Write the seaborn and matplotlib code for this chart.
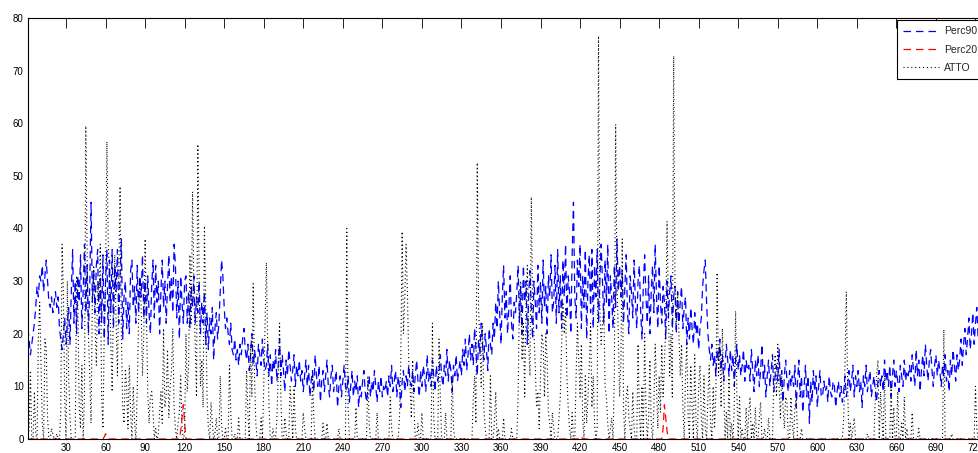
import numpy as np
import pandas as pd
import matplotlib
matplotlib.use("Agg")
import matplotlib.pyplot as plt
import seaborn as sns

# Percentile 90 (daily values, day 1..731)
perc90 = [
    21, 19, 16, 18, 20, 22,
    25, 29, 27, 31, 30, 33, 28, 31, 34, 30,
    26, 25, 27, 24, 26, 28, 25, 27,
    21, 19, 17, 20, 23, 18, 22,
    25, 18, 28, 36, 22, 30, 20, 31, 26, 35, 21, 28, 37, 24, 33, 20, 29, 45, 26, 32,
    24, 33, 36, 20, 31, 22, 35, 19, 30, 36, 18, 34, 24, 36, 21, 33, 28, 36, 22, 31, 38, 19, 27,
    30, 21, 26, 20, 32, 34, 25, 29, 22, 33, 24, 31, 27, 35, 23,
    30, 22, 31, 24, 20, 29, 34, 23, 33, 26, 30, 20, 28, 34, 25, 30, 22, 29, 35, 26, 31, 24, 37,
    33, 23, 30, 19, 31, 26, 22, 30, 31, 22, 28, 21, 29, 25, 31, 22, 27, 24, 30, 20, 26, 22, 28, 18,
    24, 17, 23, 20, 25, 15, 21, 24, 19, 22,
    28, 34, 31, 25, 21, 23, 20, 18, 22,
    17, 16, 19, 15, 17, 14, 18, 16, 19, 21, 17, 15, 18, 13, 16, 20, 14, 17, 15, 12, 18, 16, 14, 19, 15, 13,
    14, 18, 12, 16, 10, 15, 13, 17, 11, 14, 19, 12, 16, 13, 9, 15, 12, 17, 14, 11, 13, 16, 10, 14, 12, 15, 11,
    13, 9, 12, 15, 10, 14, 8, 11, 13, 9, 16, 12, 10, 14, 7, 11, 13, 9, 12, 15, 10, 8, 12, 14, 9, 11, 13, 6,
    10, 12, 8, 11, 14, 10,
    9, 12, 7, 10, 13, 8, 11, 9, 12, 6, 10, 8, 11, 13, 9, 7, 10, 12, 8, 11, 9, 13, 10, 7, 11, 9, 12, 8, 10, 9,
    11, 8, 12, 10, 14, 9, 11, 13, 8, 12, 10, 6, 11, 13, 9, 12, 10, 14, 11,
    10, 13, 9, 12, 15, 11, 8, 13, 10, 14, 12, 9, 16, 11, 13, 10, 15, 12, 9, 14, 11, 13, 16, 12,
    10, 14, 12, 17, 11, 15, 13, 9, 14, 12, 16, 11, 13,
    15, 12, 17, 14, 19, 13, 16, 20, 15, 18, 14, 21, 17, 12, 19, 16, 22, 18, 15, 20, 17, 13, 21, 18, 16,
    22, 19, 26, 21, 30, 24, 18, 27, 33, 23, 28, 20, 25, 31, 22, 19, 26, 24,
    28, 33, 22, 29, 20, 33, 26, 30, 18, 27, 32, 25, 19, 30, 26, 21, 33, 24, 30, 22, 34, 25, 29, 20, 31, 27,
    35, 24,
    26, 33, 22, 36, 24, 31, 21, 34, 27, 37, 23, 31, 28, 20, 35, 45, 27, 23, 34, 29, 37, 21, 31, 25, 36, 19,
    30, 35, 24, 36, 21, 33, 27, 36, 22, 30, 37,
    30, 22, 34, 26, 37, 20, 31, 27, 21, 33, 25, 38, 28, 33,
    27, 32, 22, 29, 35, 24, 20, 31, 28, 23, 34, 26, 21, 30, 33, 24, 19, 29, 35, 27, 22, 31, 20, 28, 33, 24,
    37, 27, 21, 33, 26, 22, 29,
    26, 19, 30, 23, 28, 31, 21, 27, 29, 20, 28, 22, 26, 29, 21, 25, 27, 18,
    23, 19, 25, 21, 18, 24, 20, 22, 17, 21, 23, 29, 32, 34, 26, 20, 17, 15,
    18, 14, 16, 12, 17, 15, 19, 13, 16, 11, 14, 18, 15, 12, 17, 13, 16, 10, 15, 18, 13, 16, 12, 14, 17, 11,
    15, 13,
    14, 11, 17, 13, 9, 15, 12, 16, 10, 13, 18, 11, 14, 8, 12, 15, 10, 13, 16, 9, 12, 14, 11, 17, 10, 13, 7,
    12, 15, 11, 9, 13, 10, 12,
    10, 14, 6, 11, 15, 8, 12, 5, 10, 14, 8, 12, 3, 11, 7, 13, 9, 12, 6, 10, 13, 8,
    8, 11, 9, 10, 7, 12, 9, 8, 11, 10, 6, 9, 11, 8, 10, 7, 9, 12, 8, 10,
    13, 9, 11, 14, 8, 12, 10, 13, 9, 11, 6, 12, 10, 14, 9, 11, 13, 8, 10, 12, 9, 7, 11, 13, 10,
    12, 9, 15, 11, 13, 10, 14, 8, 12, 15, 10, 13, 11, 9, 14, 12, 10, 15, 11, 13, 12,
    14, 11, 16, 13, 10, 17, 12, 15, 9, 13, 16, 12, 18, 14, 11, 15, 17, 13, 10, 14, 16, 12, 15,
    13, 10, 14, 12, 16, 11, 13, 9, 15, 12, 17, 14, 11, 16, 13,
    15, 19, 14, 18, 21, 16, 19, 23, 17, 20, 24, 18, 22, 25, 19, 21, 17, 23, 20, 18, 22, 19, 21, 24,
]

# Percentile 20: zero almost everywhere, two small bumps
perc20 = ([0] * 58 + [0.4, 1.0, 0.3] + [0] * 55 + [1.5, 4.0, 6.5, 3.0]
          + [0] * 300 + [0.5] + [0] * 61 + [2.0, 6.5, 4.0, 1.5] + [0] * 247)

# ATTO observations (daily, day 1..731)
atto = [
    0, 2, 13, 0, 0, 9, 1, 0, 19, 26, 14, 3, 0, 19, 17, 4, 0, 0, 2, 1, 0, 0, 1, 0, 0, 5, 37, 28, 8, 0,
    30, 12, 4, 0, 0, 0, 0, 31, 25, 6, 2, 14, 0, 8, 59.5, 35, 20, 12, 3, 27, 33, 22, 14, 30, 26, 37, 8, 2, 20, 30,
    56.5, 38, 30, 18, 9, 27, 35, 22, 12, 30, 48, 20, 6, 3, 13, 10, 2, 14, 5, 0, 10, 3, 0, 9, 22, 30, 25, 12, 20, 38,
    24, 9, 3, 8, 9, 5, 0, 2, 0, 1, 5, 9, 3, 21, 6, 8, 17, 4, 10, 13, 21, 6, 2, 0, 3, 5, 12, 2, 0, 1,
    20, 9, 14, 35, 22, 47, 28, 18, 8, 56, 30, 10, 15, 6, 40.5, 25, 8, 2, 0, 7, 3, 0, 1, 4, 0, 0, 12, 3, 0, 0,
    2, 0, 0, 14, 5, 0, 0, 1, 0, 0, 4, 0, 0, 0, 0, 0, 13, 5, 0, 18, 8, 29.5, 12, 3, 0, 0, 0, 4, 0, 10,
    22, 33.5, 18, 6, 0, 0, 2, 0, 0, 4, 12, 22, 8, 0, 0, 4, 1, 0, 0, 10, 6, 0, 10, 2, 0, 0, 0, 0, 0, 5,
    2, 0, 0, 0, 0, 0, 12, 4, 0, 0, 0, 0, 0, 0, 3, 0, 0, 3, 0, 0, 0, 0, 0, 0, 0, 0, 2, 0, 0, 0,
    0, 0, 40, 6, 0, 0, 0, 0, 0, 6, 0, 0, 0, 0, 0, 0, 0, 0, 12, 3, 0, 0, 0, 0, 0, 5, 0, 0, 0, 0,
    0, 0, 0, 0, 0, 8, 2, 0, 0, 0, 0, 0, 4, 15, 39.4, 20, 27, 37, 28, 15, 10, 4, 15, 6, 0, 0, 3, 0, 0, 5,
    0, 0, 0, 0, 0, 0, 0, 22, 4, 0, 0, 0, 19, 8, 0, 0, 0, 5, 0, 0, 0, 0, 12, 2, 0, 0, 0, 0, 0, 0,
    0, 0, 0, 0, 0, 0, 0, 0, 8, 12, 3, 52.5, 25, 18, 10, 22, 6, 2, 0, 0, 0, 12, 0, 0, 3, 9, 0, 2, 0, 0,
    0, 4, 0, 0, 0, 0, 0, 2, 0, 0, 0, 0, 8, 28, 30, 15, 22, 8, 25, 33, 18, 12, 46, 25, 20, 14, 6, 9, 2, 12,
    20, 18, 8, 20, 15, 5, 3, 0, 5, 2, 0, 0, 0, 4, 8, 18, 26, 20, 25, 12, 6, 2, 0, 5, 0, 0, 12, 22, 15, 8,
    18, 4, 0, 12, 3, 8, 14, 22, 6, 12, 3, 0, 2, 76.6, 25, 18, 22, 25, 10, 8, 3, 0, 2, 4, 0, 12, 59.8, 30, 20, 8,
    15, 38, 6, 0, 8, 10, 4, 2, 0, 9, 2, 0, 0, 18, 5, 0, 10, 0, 20, 6, 0, 4, 15, 3, 0, 6, 18, 10, 2, 12,
    5, 18, 8, 14, 22, 41.4, 25, 12, 20, 8, 72.8, 30, 22, 28, 20, 12, 18, 6, 0, 12, 18, 4, 0, 14, 6, 0, 16, 3, 0, 10,
    14, 4, 0, 12, 2, 0, 8, 14, 3, 0, 10, 2, 8, 31.6, 12, 18, 6, 21, 10, 0, 5, 0, 12, 0, 3, 0, 6, 24.3, 8, 0,
    8, 0, 2, 0, 0, 6, 0, 5, 8, 0, 3, 0, 6, 0, 0, 4, 7, 0, 0, 2, 0, 0, 4, 0, 0, 0, 12, 16, 8, 18,
    10, 4, 12, 6, 2, 8, 7, 0, 0, 8, 3, 0, 6, 8, 0, 0, 0, 2, 0, 0, 0, 0, 0, 0, 0, 0, 0, 0, 0, 0,
    0, 0, 0, 0, 0, 0, 0, 0, 0, 0, 0, 0, 0, 0, 0, 0, 0, 0, 0, 4, 14, 28, 10, 0, 3, 0, 2, 4, 0, 0,
    0, 0, 0, 0, 0, 0, 0, 1, 0, 0, 0, 0, 0, 8, 12, 15, 0, 9, 4, 0, 12, 0, 0, 0, 0, 10, 0, 6, 0, 0,
    9, 0, 0, 3, 0, 8, 0, 2, 0, 0, 0, 5, 0, 0, 0, 0, 2, 0, 0, 0, 0, 0, 0, 0, 0, 0, 0, 0, 0, 0,
    0, 0, 0, 0, 0, 20.8, 0, 0, 0, 0, 0, 1, 0, 0, 0, 0, 0, 0, 0, 0, 0, 0, 0, 0, 0, 0, 0, 0, 0, 10,
    2, 0, 0, 0, 0, 0, 0, 0, 0, 0, 0,
]

series_names = ["Perc90", "Perc20", "ATTO"]
colors = {"Perc90": "#0000ff", "Perc20": "#ff0000", "ATTO": "#000000"}
dash_styles = {"Perc90": (6, 4), "Perc20": (6, 4), "ATTO": (1, 2.5)}

# long-form table for seaborn
frames = []
for name, vals in zip(series_names, [perc90, perc20, atto]):
    frames.append(pd.DataFrame({"day": np.arange(1, len(vals) + 1), "value": vals, "serie": name}))
df = pd.concat(frames, ignore_index=True)

sns.set_theme(style="white")
plt.rcParams["font.family"] = ["Liberation Sans", "DejaVu Sans"]

fig = plt.figure(figsize=(9.79, 4.53), dpi=100)
ax = fig.add_axes([0.0284, 0.0309, 0.9828, 0.9294])

sns.lineplot(data=df, x="day", y="value", hue="serie", style="serie",
             hue_order=series_names, style_order=series_names,
             palette=colors, dashes=dash_styles, estimator=None,
             linewidth=0.9, legend=False, ax=ax)
ax.lines[2].set_linewidth(0.8)

ax.set_xlim(1, 731)
ax.set_ylim(0, 80)
ax.set_xticks(np.arange(30, 731, 30))
ax.set_yticks(np.arange(0, 81, 10))
ax.set_xlabel("")
ax.set_ylabel("")
ax.tick_params(direction="in", length=7, width=0.6, top=True, right=True,
               labelsize=7, pad=3, colors="black")
for sp in ax.spines.values():
    sp.set_color("black")
    sp.set_linewidth(0.8)

# legend in the upper right corner (MATLAB style box)
leg = ax.legend(ax.lines[:3], series_names, loc="upper left",
                bbox_to_anchor=(897 / 979, 1 - 20 / 453), bbox_transform=fig.transFigure,
                fontsize=7.5, frameon=True, fancybox=False, framealpha=1,
                edgecolor="black", handlelength=3.4, labelspacing=0.8,
                borderpad=0.6, handletextpad=0.5, borderaxespad=0)
leg.get_frame().set_linewidth(0.8)

fig.savefig("out.png", dpi=100)
